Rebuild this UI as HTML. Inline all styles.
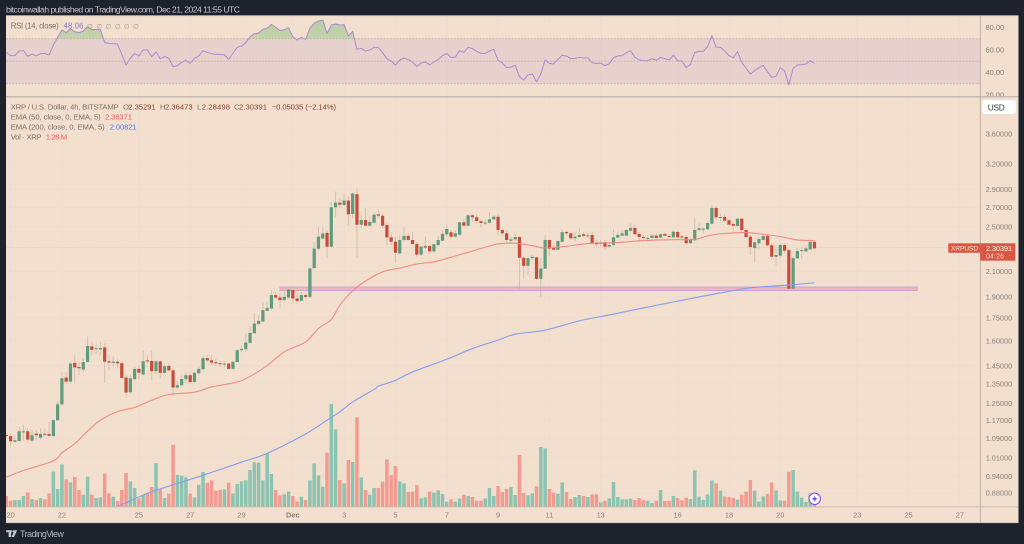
<!DOCTYPE html>
<html lang="en">
<head>
<meta charset="utf-8">
<title>XRP / U.S. Dollar chart</title>
<style>
html,body{margin:0;padding:0;background:#1e222d;width:1024px;height:544px;overflow:hidden}
svg{display:block;font-family:"Liberation Sans","DejaVu Sans",sans-serif;filter:blur(0.3px)}
</style>
</head>
<body>
<svg id="chart" xmlns="http://www.w3.org/2000/svg" width="1024" height="544" viewBox="0 0 1024 544">
  <defs>
    <clipPath id="rsi-clip"><rect x="6" y="16" width="974.3" height="80.6"/></clipPath>
    <clipPath id="rsi-axis-clip"><rect x="981" y="16" width="37" height="80.3"/></clipPath>
    <clipPath id="price-clip"><rect x="6" y="97" width="974.3" height="409.7"/></clipPath>
    <clipPath id="rsi-over-clip"><rect id="rsi-over-rect" x="6" y="16" width="974.3" height="23"/></clipPath>
    <linearGradient id="rsi-green" x1="0" y1="0" x2="0" y2="1">
      <stop offset="0" stop-color="#4caf50" stop-opacity="0.36"/>
      <stop offset="1" stop-color="#4caf50" stop-opacity="0.02"/>
    </linearGradient>
  </defs>
  <rect x="0" y="0" width="1024" height="544" fill="#1e222d"/>
  <rect x="6" y="15.7" width="1012.5" height="507" fill="#f2dfcd"/>
  <g id="grid"></g>
  <g id="rsi-pane"></g>
  <g id="price-pane" clip-path="url(#price-clip)"></g>
  <g id="axes"></g>

  <text x="6" y="12.6" font-size="8.6" fill="#c4c7cf" textLength="234" lengthAdjust="spacing">bitcoinwallah published on TradingView.com, Dec 21, 2024 11:55 UTC</text>

  <g font-size="7.8" fill="#7c716a">
    <text x="10.7" y="28.4" textLength="48" lengthAdjust="spacing">RSI (14, close)</text>
    <text x="63.5" y="28.4" fill="#9575cd" textLength="20" lengthAdjust="spacing">48.06</text>
    <text x="87" y="28.4" fill="#9a8f87" font-size="6.6">∅</text>
    <text x="96.4" y="28.4" fill="#9a8f87" font-size="6.6">∅</text>
    <text x="105.4" y="28.4" fill="#9a8f87" font-size="6.6">∅</text>
    <text x="114.7" y="28.4" fill="#9a8f87" font-size="6.6">∅</text>
    <text x="123.8" y="28.4" fill="#9a8f87" font-size="6.6">∅</text>
    <text x="133" y="28.4" fill="#9a8f87" font-size="6.6">∅</text>
  </g>

  <g font-size="7.7" fill="#7c716a">
    <text x="10.7" y="109.4" textLength="108" lengthAdjust="spacing">XRP / U.S. Dollar, 4h, BITSTAMP</text>
    <text x="123" y="109.4">O</text>
    <text x="128.3" y="109.4" fill="#8a4038" textLength="27.4" lengthAdjust="spacing">2.35291</text>
    <text x="160" y="109.4">H</text>
    <text x="165" y="109.4" fill="#8a4038" textLength="27.6" lengthAdjust="spacing">2.36473</text>
    <text x="197" y="109.4">L</text>
    <text x="201.7" y="109.4" fill="#8a4038" textLength="28.3" lengthAdjust="spacing">2.28498</text>
    <text x="234" y="109.4">C</text>
    <text x="239" y="109.4" fill="#8a4038" textLength="28" lengthAdjust="spacing">2.30391</text>
    <text x="271.7" y="109.4" fill="#8a4038" textLength="64.3" lengthAdjust="spacing">−0.05035 (−2.14%)</text>
    <text x="10.7" y="119.4" textLength="90" lengthAdjust="spacing">EMA (50, close, 0, EMA, 5)</text>
    <text x="105" y="119.4" fill="#f45a5a" textLength="27" lengthAdjust="spacing">2.36371</text>
    <text x="10.7" y="129.4" textLength="94" lengthAdjust="spacing">EMA (200, close, 0, EMA, 5)</text>
    <text x="109.7" y="129.4" fill="#4a7df5" textLength="27" lengthAdjust="spacing">2.00821</text>
    <text x="10.7" y="139.4" textLength="31" lengthAdjust="spacing">Vol · XRP</text>
    <text x="45.7" y="139.4" fill="#f45a5a" textLength="21.5" lengthAdjust="spacing">1.28 M</text>
  </g>

  <g>
    <rect x="982.3" y="100" width="33.5" height="14" rx="2.5" fill="#ffffff"/>
    <text x="987.8" y="110.3" font-size="8.4" fill="#3a3d46" textLength="17" lengthAdjust="spacing">USD</text>
  </g>

  <g>
    <rect x="948.3" y="243.3" width="32" height="9.5" fill="#dc5645"/>
    <text x="951" y="250.7" font-size="6.6" fill="#f9e5dc" textLength="27" lengthAdjust="spacing">XRPUSD</text>
    <rect x="980.3" y="243.3" width="35" height="17.4" fill="#dc5645"/>
    <text x="986" y="250.8" font-size="7.2" fill="#ffffff" textLength="26" lengthAdjust="spacing">2.30391</text>
    <text x="986" y="258.5" font-size="7" fill="#f7cfc6" textLength="18" lengthAdjust="spacing">04:26</text>
  </g>

  <g>
    <circle cx="814.7" cy="498.8" r="5.7" fill="#ffffff" stroke="#7c4dff" stroke-width="1.1"/>
    <circle cx="814.7" cy="498.8" r="1.6" fill="#7c4dff"/>
    <rect x="812" y="498.4" width="5.4" height="0.8" fill="#7c4dff"/>
    <rect x="814.3" y="496.1" width="0.8" height="5.4" fill="#7c4dff"/>
  </g>

  <g fill="#c6c9d0">
    <rect x="6.2" y="530.2" width="5.6" height="2"/>
    <rect x="8.6" y="532" width="2.6" height="5"/>
    <circle cx="13.4" cy="531.3" r="1.1"/>
    <polygon points="14.6,530.2 17.2,530.2 14,537 11.6,537"/>
    <text x="20" y="537" font-size="9" fill="#b2b5be" textLength="44" lengthAdjust="spacing">TradingView</text>
  </g>
</svg>

<script>
// bar index of the first element in the OHLC / volume / RSI arrays
const firstBar = -1;

const opens = [
1.105,1.100,1.076,1.079,1.119,1.121,1.081,1.111,1.093,1.110,
1.109,1.100,1.171,1.246,1.384,1.362,1.466,1.443,1.428,1.471,
1.565,1.549,1.546,1.558,1.475,1.466,1.473,1.464,1.384,1.307,
1.376,1.432,1.401,1.481,1.477,1.419,1.475,1.410,1.449,1.424,
1.331,1.343,1.376,1.397,1.360,1.408,1.430,1.494,1.481,1.470,
1.464,1.458,1.462,1.432,1.471,1.541,1.547,1.586,1.647,1.707,
1.725,1.798,1.815,1.913,1.895,1.876,1.895,1.951,1.888,1.871,
1.913,1.900,2.127,2.295,2.388,2.442,2.313,2.700,2.750,2.725,
2.772,2.630,2.843,2.522,2.569,2.512,2.542,2.627,2.613,2.519,
2.400,2.359,2.253,2.375,2.413,2.375,2.338,2.242,2.304,2.320,
2.271,2.329,2.368,2.429,2.448,2.406,2.425,2.546,2.512,2.617,
2.596,2.556,2.535,2.542,2.576,2.602,2.470,2.438,2.368,2.381,
2.403,2.215,2.146,2.212,2.219,2.039,2.122,2.375,2.307,2.286,
2.359,2.451,2.438,2.391,2.403,2.429,2.413,2.422,2.345,2.342,
2.354,2.313,2.329,2.397,2.416,2.416,2.463,2.490,2.432,2.403,
2.388,2.394,2.416,2.397,2.432,2.413,2.400,2.451,2.408,2.403,
2.345,2.372,2.470,2.477,2.477,2.532,2.693,2.592,2.599,2.566,
2.529,2.509,2.582,2.470,2.406,2.301,2.345,2.375,2.413,2.326,
2.224,2.233,2.329,2.283,1.961,2.210,2.274,2.271,2.289,2.357];

const highs = [
1.112,1.111,1.104,1.140,1.148,1.134,1.125,1.125,1.134,1.134,
1.163,1.175,1.261,1.415,1.415,1.475,1.511,1.471,1.493,1.627,
1.592,1.582,1.592,1.582,1.511,1.505,1.485,1.471,1.397,1.397,
1.443,1.453,1.537,1.511,1.537,1.481,1.481,1.458,1.462,1.434,
1.369,1.397,1.415,1.415,1.419,1.447,1.511,1.511,1.511,1.491,
1.478,1.475,1.468,1.475,1.547,1.571,1.647,1.693,1.782,1.768,
1.861,1.863,1.951,1.936,1.928,1.944,1.959,1.959,1.928,1.938,
1.928,2.133,2.360,2.497,2.497,2.470,2.761,2.871,2.798,2.851,
2.817,2.858,2.907,2.620,2.690,2.602,2.644,2.679,2.637,2.536,
2.446,2.406,2.422,2.497,2.438,2.453,2.359,2.320,2.406,2.329,
2.338,2.413,2.470,2.519,2.470,2.470,2.552,2.586,2.627,2.627,
2.627,2.569,2.576,2.648,2.620,2.627,2.487,2.461,2.400,2.438,
2.413,2.224,2.221,2.239,2.224,2.219,2.422,2.375,2.329,2.370,
2.470,2.464,2.451,2.448,2.487,2.453,2.442,2.448,2.375,2.375,
2.375,2.359,2.477,2.453,2.461,2.477,2.536,2.519,2.453,2.422,
2.422,2.438,2.438,2.442,2.446,2.432,2.465,2.464,2.422,2.422,
2.397,2.586,2.536,2.497,2.552,2.725,2.714,2.637,2.630,2.579,
2.552,2.589,2.586,2.487,2.422,2.359,2.406,2.438,2.432,2.345,
2.329,2.345,2.345,2.298,2.224,2.298,2.313,2.313,2.381,2.375];

const lows = [
1.095,1.058,1.072,1.075,1.082,1.073,1.070,1.082,1.086,1.100,
1.097,1.098,1.166,1.241,1.353,1.353,1.353,1.397,1.415,1.471,
1.511,1.517,1.511,1.355,1.424,1.442,1.434,1.378,1.276,1.300,
1.369,1.378,1.397,1.464,1.369,1.402,1.378,1.402,1.415,1.286,
1.320,1.337,1.352,1.352,1.356,1.400,1.424,1.471,1.453,1.447,
1.442,1.440,1.428,1.428,1.470,1.529,1.531,1.584,1.644,1.703,
1.720,1.796,1.803,1.884,1.817,1.869,1.888,1.850,1.854,1.869,
1.884,1.895,2.123,2.283,2.381,2.212,2.308,2.602,2.690,2.714,
2.519,2.586,2.218,2.487,2.502,2.502,2.536,2.586,2.487,2.329,
2.329,2.172,2.247,2.359,2.368,2.329,2.219,2.230,2.295,2.248,
2.253,2.320,2.365,2.406,2.391,2.400,2.419,2.502,2.506,2.552,
2.536,2.497,2.519,2.526,2.569,2.422,2.413,2.354,2.345,2.368,
1.961,2.047,2.069,2.195,2.034,1.900,2.120,2.230,2.279,2.279,
2.345,2.422,2.375,2.366,2.400,2.400,2.394,2.329,2.308,2.313,
2.289,2.308,2.322,2.391,2.410,2.406,2.453,2.422,2.359,2.368,
2.359,2.381,2.381,2.390,2.410,2.394,2.394,2.391,2.385,2.329,
2.338,2.366,2.463,2.438,2.470,2.526,2.569,2.552,2.542,2.514,
2.453,2.502,2.453,2.391,2.239,2.172,2.295,2.368,2.313,2.195,
2.152,2.210,2.253,1.961,1.959,2.204,2.210,2.265,2.283,2.289];

const closes = [
1.101,1.078,1.082,1.121,1.121,1.085,1.104,1.104,1.109,1.106,
1.101,1.171,1.246,1.380,1.362,1.462,1.440,1.436,1.471,1.567,
1.543,1.553,1.555,1.473,1.468,1.473,1.464,1.382,1.305,1.380,
1.432,1.411,1.475,1.477,1.419,1.475,1.410,1.447,1.424,1.331,
1.343,1.376,1.397,1.360,1.410,1.432,1.494,1.481,1.468,1.464,
1.461,1.462,1.432,1.473,1.541,1.549,1.588,1.649,1.711,1.729,
1.803,1.820,1.913,1.895,1.876,1.900,1.956,1.888,1.869,1.913,
1.900,2.124,2.295,2.406,2.436,2.313,2.700,2.750,2.728,2.772,
2.627,2.851,2.522,2.569,2.512,2.549,2.623,2.613,2.512,2.400,
2.359,2.259,2.375,2.413,2.375,2.338,2.242,2.313,2.320,2.271,
2.336,2.375,2.432,2.480,2.406,2.438,2.546,2.512,2.617,2.596,
2.559,2.539,2.542,2.576,2.602,2.470,2.438,2.375,2.381,2.403,
2.215,2.146,2.212,2.224,2.039,2.124,2.375,2.295,2.286,2.366,
2.448,2.438,2.391,2.406,2.422,2.413,2.419,2.341,2.338,2.348,
2.313,2.329,2.400,2.422,2.438,2.470,2.490,2.429,2.403,2.394,
2.394,2.416,2.394,2.429,2.416,2.406,2.453,2.400,2.402,2.345,
2.375,2.470,2.487,2.483,2.539,2.693,2.596,2.599,2.562,2.522,
2.512,2.582,2.470,2.403,2.310,2.354,2.384,2.413,2.326,2.224,
2.239,2.329,2.277,1.961,2.212,2.274,2.283,2.298,2.357,2.298];

const volumes = [
1.07,.60,.67,.67,1.07,1.43,.77,.67,.87,.73,
1.33,3.50,1.77,4.23,2.73,2.43,2.97,1.67,1.20,3.00,
1.20,.87,.93,3.30,1.33,1.00,.57,1.67,3.37,2.53,
1.87,.83,1.17,1.33,1.97,4.37,1.73,.87,1.30,6.20,
3.17,3.10,2.93,1.30,.93,2.20,3.47,2.40,2.63,1.60,
1.67,1.73,2.40,1.33,2.27,2.53,2.63,3.67,4.43,4.40,
2.63,5.33,3.27,1.67,1.13,1.23,1.50,1.07,.50,1.00,
.67,2.63,4.33,3.13,2.00,5.40,10.27,7.73,2.67,2.33,
4.67,4.47,8.93,2.93,1.67,1.20,1.87,1.87,2.50,4.73,
3.17,4.07,2.53,2.33,1.47,1.50,2.17,.83,.93,1.50,
1.40,1.63,1.27,.50,.73,.50,.83,1.20,1.07,.97,
.60,.60,.83,1.87,1.07,2.07,1.47,1.80,1.97,1.17,
5.17,1.37,1.13,1.33,2.03,5.97,5.83,1.77,1.40,1.30,
2.43,1.47,.77,.97,1.17,1.07,.97,1.23,1.23,.43,
.60,.83,2.47,.97,.73,.73,.80,.67,.87,.67,
.60,.37,.60,1.67,.57,.57,1.07,.87,.63,.90,
.77,3.63,1.00,.67,1.23,2.63,2.33,1.60,1.03,.97,
.87,.70,1.20,1.50,2.67,1.60,.50,1.03,1.27,2.43,
1.63,.63,.60,3.50,3.67,1.50,.90,.47,1.33,1.28];

const rsiValues = [
57.9,55.0,55.0,59.1,59.4,54.4,56.4,54.7,56.7,57.0,
55.5,64.4,71.3,77.8,75.4,79.0,76.3,75.4,76.9,80.7,
78.1,78.1,78.1,66.8,65.9,65.6,65.3,56.1,46.7,52.6,
57.0,54.7,60.0,60.0,54.1,58.2,52.3,54.1,52.6,45.2,
46.1,49.0,50.8,48.1,52.6,54.7,59.4,57.9,56.7,56.1,
56.1,55.8,51.7,57.0,62.4,63.5,66.5,71.8,74.5,75.1,
78.4,79.3,82.8,80.1,77.2,78.1,79.8,71.8,68.9,71.3,
69.5,79.3,83.7,85.8,86.7,74.8,82.2,83.1,82.2,82.5,
72.4,76.6,60.6,61.5,59.1,60.0,62.4,62.1,57.6,52.3,
50.2,46.4,51.1,52.9,51.4,49.3,45.2,48.4,49.3,46.9,
49.3,51.7,55.0,57.0,53.2,53.8,59.4,57.9,62.4,61.2,
58.8,57.0,57.0,59.1,60.6,50.8,48.4,44.3,44.9,46.4,
36.3,33.3,37.8,38.7,31.6,38.7,51.1,48.1,47.6,51.7,
55.3,54.7,52.3,52.6,53.5,52.9,53.2,48.7,48.1,48.4,
46.1,47.8,53.2,54.7,55.0,57.6,59.4,53.5,51.1,50.5,
50.5,52.3,50.8,53.5,52.3,51.1,55.3,50.5,50.2,44.3,
47.3,57.9,58.8,58.8,63.0,72.7,62.4,62.4,59.4,55.0,
53.2,58.5,49.0,43.7,38.7,41.6,44.3,46.4,40.7,35.7,
36.6,44.3,41.6,28.9,43.7,46.7,47.0,47.6,50.5,48.1];

const ema50Bars = [-1,3,10,12,15,18,21,25,29,33,37,43,47,52,55,60,64,69,72,75,77,80,83,87,91,95,99,103,107,111,114,118,122,125,129,136,142,148,155,160,164,171,176,181,184,188];
const ema50Values = [.936,.961,.998,1.030,1.068,1.122,1.171,1.211,1.231,1.266,1.295,1.307,1.334,1.355,1.378,1.451,1.531,1.592,1.678,1.738,1.839,1.946,2.021,2.096,2.127,2.161,2.180,2.219,2.263,2.308,2.338,2.345,2.322,2.301,2.313,2.345,2.351,2.370,2.378,2.381,2.422,2.445,2.429,2.400,2.375,2.368];

const ema200Bars = [24,31,37,44,54,60,69,74,77,80,85,86,90,94,102,108,114,118,125,133,141,147,160,171,176,182,188];
const ema200Values = [.827,.873,.904,.938,.993,1.028,1.109,1.171,1.210,1.258,1.321,1.338,1.369,1.415,1.487,1.551,1.603,1.641,1.667,1.729,1.775,1.813,1.893,1.959,1.977,1.990,2.008];

const priceTicks = [3.6,3.2,2.9,2.7,2.5,2.1,1.9,1.75,1.6,1.45,1.35,1.25,1.17,1.09,1.01,0.94,0.88];
const rsiTicks = [80,60,40,20];
const rsiBands = [70,50,30];
const timeLabels = ['20','22','25','27','29','Dec','3','5','7','9','11','13','16','18','20','23','25','27'];
const timeBars = [0,12,30,42,54,66,78,90,102,114,126,138,156,168,180,198,210,222];
const lastPrice = 2.30391;
const zoneTop = 1.975;
const zoneBottom = 1.947;
const zoneStartBar = 63;
const zoneEndBar = 212;

const SVG_NS = 'http://www.w3.org/2000/svg';
function xBar(i){ return 10.6 + i * 4.276; }
function yPrice(p){ return 134 + (Math.log(3.6) - Math.log(p)) * 254.8; }
function yRsi(r){ return 27.5 + (80 - r) * 1.125; }
function yVolume(v){ return 506.7 - v * 10; }
function make(tag, attrs, parent){
  const el = document.createElementNS(SVG_NS, tag);
  for (const k in attrs) el.setAttribute(k, attrs[k]);
  parent.appendChild(el);
  return el;
}
// Catmull-Rom smoothing so that sparse EMA readings draw as a soft curve
function smoothPath(bars, values){
  const pts = bars.map(function(b, j){ return [xBar(b), yPrice(values[j])]; });
  let d = 'M' + pts[0][0].toFixed(2) + ' ' + pts[0][1].toFixed(2);
  for (let j = 0; j < pts.length - 1; j++){
    const p0 = pts[Math.max(j - 1, 0)], p1 = pts[j], p2 = pts[j + 1], p3 = pts[Math.min(j + 2, pts.length - 1)];
    const c1x = p1[0] + (p2[0] - p0[0]) / 6, c1y = p1[1] + (p2[1] - p0[1]) / 6;
    const c2x = p2[0] - (p3[0] - p1[0]) / 6, c2y = p2[1] - (p3[1] - p1[1]) / 6;
    d += 'C' + c1x.toFixed(2) + ' ' + c1y.toFixed(2) + ' ' + c2x.toFixed(2) + ' ' + c2y.toFixed(2) + ' ' + p2[0].toFixed(2) + ' ' + p2[1].toFixed(2);
  }
  return d;
}
const grid = document.getElementById('grid');
const rsiPane = document.getElementById('rsi-pane');
const pricePane = document.getElementById('price-pane');
const axes = document.getElementById('axes');

// ---- grid ----
timeBars.forEach(function(b){
  const el = make('line', {x1:xBar(b), x2:xBar(b), y1:16, y2:506.7, stroke:'#ecdcd2', 'stroke-width':0.8}, grid);
  
  
});
priceTicks.forEach(function(p){
  const el = make('line', {x1:6, x2:980.3, y1:yPrice(p), y2:yPrice(p), stroke:'#ecdcd2', 'stroke-width':0.8}, grid);
  
  
});
const priceLine = make('line', {x1:6, x2:980.3, y1:yPrice(lastPrice), y2:yPrice(lastPrice), stroke:'#e6d0c2', 'stroke-width':0.9, 'stroke-dasharray':'1.5 1'}, grid);



// ---- RSI pane ----
const band = make('rect', {x:6, width:974.3, y:yRsi(70), height:yRsi(30)-yRsi(70), fill:'#7e57c2', 'fill-opacity':0.1}, rsiPane);


rsiBands.forEach(function(r){
  const el = make('line', {x1:6, x2:980.3, y1:yRsi(r), y2:yRsi(r), stroke:'#c6b5ab', 'stroke-width':0.9, 'stroke-dasharray':'1.6 1.6'}, rsiPane);
  
  
});
document.getElementById('rsi-over-rect').setAttribute('height', yRsi(70) - 16);
const rsiPts = rsiValues.map(function(r, k){ return xBar(k + firstBar).toFixed(2) + ',' + yRsi(r).toFixed(2); });
const rsiFill = make('polygon', {
  points: xBar(firstBar) + ',' + yRsi(70) + ' ' + rsiPts.join(' ') + ' ' + xBar(firstBar + rsiValues.length - 1) + ',' + yRsi(70),
  fill:'url(#rsi-green)', 'clip-path':'url(#rsi-over-clip)'
}, rsiPane);


const rsiLine = make('polyline', {points:rsiPts.join(' '), fill:'none', stroke:'#a98bd3', 'stroke-width':1, 'stroke-linejoin':'round', 'clip-path':'url(#rsi-clip)'}, rsiPane);



// ---- volume ----
volumes.forEach(function(v, k){
  const up = closes[k] >= opens[k];
  const y = yVolume(v);
  const el = make('rect', {x:xBar(k + firstBar) - 1.75, width:3.5, y:y, height:506.7 - y, fill: up ? '#8cc4b1' : '#f39b90'}, pricePane);
  
  
});

// ---- support zone ----
const zone = make('rect', {x:xBar(zoneStartBar), width:xBar(zoneEndBar) - xBar(zoneStartBar), y:yPrice(zoneTop), height:yPrice(zoneBottom) - yPrice(zoneTop), fill:'#e6a0b3', 'fill-opacity':0.6, stroke:'#c79cd6', 'stroke-width':0.8}, pricePane);



// ---- candles ----
opens.forEach(function(o, k){
  const c = closes[k];
  const up = c >= o;
  const x = xBar(k + firstBar);
  const g = make('g', {}, pricePane);
  
  
  const wick = make('line', {x1:x, x2:x, y1:yPrice(highs[k]), y2:yPrice(lows[k]), stroke:'#a7998d', 'stroke-opacity':0.42, 'stroke-width':1}, g);
  
  
  const top = yPrice(Math.max(o, c));
  const bot = yPrice(Math.min(o, c));
  const body = make('rect', {x:x - 1.6, width:3.2, y:top, height:Math.max(bot - top, 1), fill: up ? '#5f9b7d' : '#c94c3a'}, g);
  
  
});

// ---- moving averages ----
const ema200Line = make('path', {d:smoothPath(ema200Bars, ema200Values), fill:'none', stroke:'#859ef0', 'stroke-width':1.1}, pricePane);


const ema50Line = make('path', {d:smoothPath(ema50Bars, ema50Values), fill:'none', stroke:'#f28a86', 'stroke-width':1.1}, pricePane);



// ---- axes ----
const priceAxisLine = make('line', {x1:980.3, x2:980.3, y1:16, y2:522.7, stroke:'#bdb1a6', 'stroke-width':1}, axes);


const timeAxisLine = make('line', {x1:6, x2:1018.5, y1:506.9, y2:506.9, stroke:'#c9bdb2', 'stroke-width':1}, axes);


const paneDivider = make('line', {x1:6, x2:1018.5, y1:96.8, y2:96.8, stroke:'#b9afa5', 'stroke-width':1.2}, axes);


const topBorder = make('line', {x1:6, x2:1018.5, y1:15.7, y2:15.7, stroke:'#c9c2bb', 'stroke-width':0.8}, axes);


const bottomBorder = make('line', {x1:6, x2:1018.5, y1:522.7, y2:522.7, stroke:'#c9c2bb', 'stroke-width':0.9}, axes);



priceTicks.forEach(function(p){
  const t = make('text', {x:985.7, y:yPrice(p) + 2.7, 'font-size':7.4, fill:'#8b8279', textLength:26.5, lengthAdjust:'spacing'}, axes);
  
  
  t.textContent = p.toFixed(5);
});
rsiTicks.forEach(function(r){
  const t = make('text', {x:985.5, y:yRsi(r) + 2.7, 'font-size':7.5, fill:'#8b8279', textLength:18.7, lengthAdjust:'spacing', 'clip-path':'url(#rsi-axis-clip)'}, axes);
  
  
  t.textContent = r.toFixed(2);
});
timeLabels.forEach(function(label, j){
  const t = make('text', {x:xBar(timeBars[j]), y:517.7, 'font-size':7.4, fill:'#8b8279', 'text-anchor':'middle', 'font-weight': label === 'Dec' ? 'bold' : 'normal'}, axes);
  
  
  t.textContent = label;
});
</script>
</body>
</html>
